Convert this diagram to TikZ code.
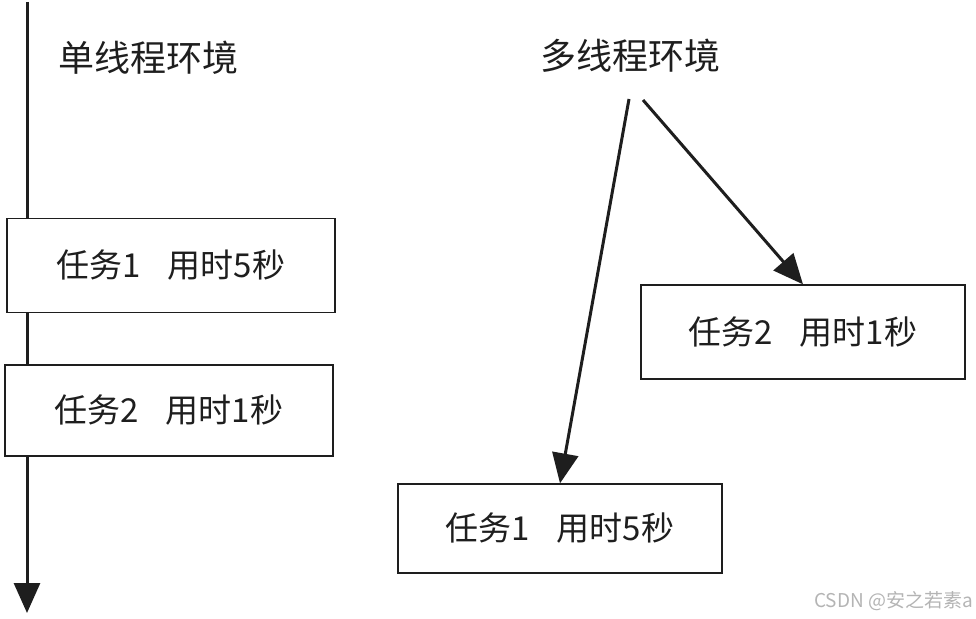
\documentclass[tikz,border=0pt]{standalone}
\usepackage{fontspec}
\setmainfont{Noto Sans CJK SC}
\newfontfamily\cjk{Noto Sans CJK SC}
\usetikzlibrary{arrows.meta}
\usetikzlibrary{calc}
\usetikzlibrary{positioning}

\definecolor{inkgray}{HTML}{1E1E1E}
\definecolor{markgray}{HTML}{B4B4B4}

\begin{document}
\begin{tikzpicture}[
		x=1pt,
		y=-1pt,
		/utils/exec={\cjk},
		font=\fontsize{33pt}{35pt}\selectfont,
		>={Triangle[width=26,length=30]},
		text=inkgray,
	]
		\tikzset{taskbox/.style={
			draw=inkgray,
			fill=white,
			rectangle,
			line width=1.3,
			inner sep=0,
			text centered,
		}}
		\tikzset{flow/.style={
			line width=3,
			draw=inkgray,
			->,
		}}
		\tikzset{heading/.style={
			font=\fontsize{36pt}{38pt}\selectfont,
		}}

		\useasboundingbox (0,0) rectangle (976,618);

		% single thread
		\coordinate (timeTop) at (27,2);
		\coordinate (timeEnd) at (27,613);
		\draw[flow] (timeTop) -- (timeEnd);

		\node[heading] (single) at (148,58) {单线程环境};

		\node[
			taskbox,
			minimum width=328,
			minimum height=94,
		] (taskOneS) at (171,265.5) {任务1\hspace{0.8em}用时5秒};
		\node[
			taskbox,
			minimum width=328,
			minimum height=91,
		] (taskTwoS) at (169,410.5) {任务2\hspace{0.8em}用时1秒};

		% multi thread
		\node[heading] (multi) at (630,56) {多线程环境};

		\node[
			taskbox,
			minimum width=324,
			minimum height=94,
		] (taskTwoM) at (803,332) {任务2\hspace{0.8em}用时1秒};
		\node[
			taskbox,
			minimum width=324,
			minimum height=89,
		] (taskOneM) at (560,528.5) {任务1\hspace{0.8em}用时5秒};

		\coordinate (forkA) at (629,99);
		\coordinate (forkB) at (643,100);
		\draw[flow] (forkA) -- (taskOneM.north);
		\draw[flow] (forkB) -- (taskTwoM.north);

		\node[
			anchor=east,
			text=markgray,
			font=\fontsize{19pt}{20pt}\selectfont,
			inner sep=0,
		] (mark) at (973,601) {CSDN @安之若素a};
	\end{tikzpicture}
\end{document}
